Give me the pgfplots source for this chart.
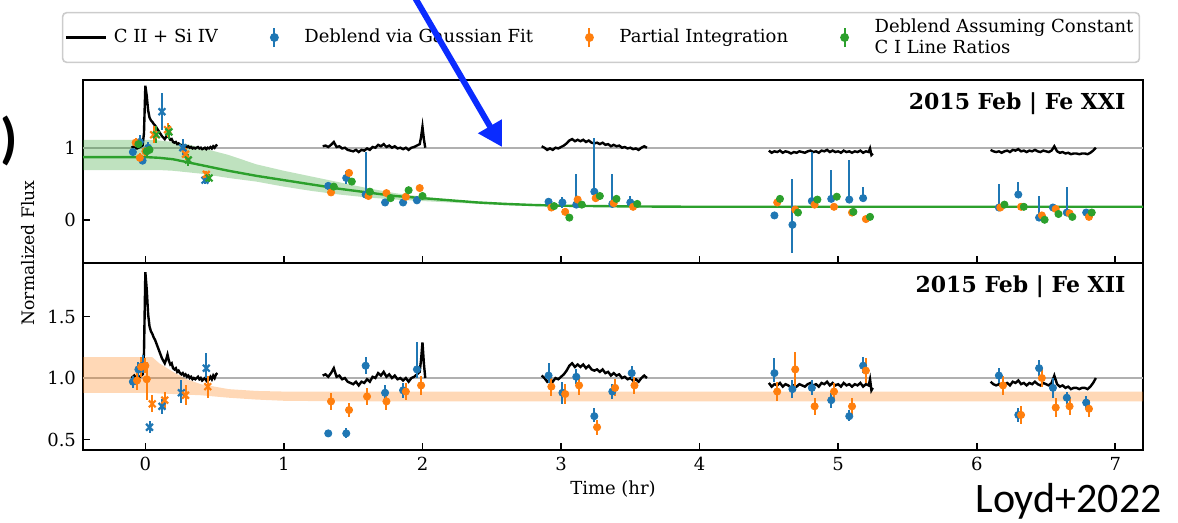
\documentclass[border=0pt]{standalone}
\usepackage{fontspec}
\setmainfont{DejaVu Serif}
\newfontfamily\carlito{Carlito}
\usepackage{pgfplots}
\pgfplotsset{compat=1.18}
\usepackage{pgfplotstable}
\usetikzlibrary{arrows.meta}

\definecolor{tabblue}{HTML}{1F77B4}
\definecolor{taborange}{HTML}{FF7F0E}
\definecolor{tabgreen}{HTML}{2CA02C}
\definecolor{refgray}{HTML}{B0B0B0}
\definecolor{arrowblue}{HTML}{0A2BFF}

% C II + Si IV light curve (same in both panels), nan breaks the gaps
\pgfplotstableread{
t f
-0.10 1.00
-0.08 1.02
-0.06 0.99
-0.04 1.01
-0.02 1.03
-0.01 1.20
0.00 1.86
0.01 1.72
0.02 1.52
0.03 1.42
0.04 1.38
0.05 1.36
0.06 1.33
0.07 1.31
0.08 1.28
0.09 1.25
0.10 1.22
0.11 1.19
0.12 1.16
0.13 1.14
0.14 1.12
0.15 1.15
0.16 1.19
0.17 1.14
0.18 1.11
0.19 1.12
0.20 1.08
0.21 1.07
0.22 1.08
0.23 1.05
0.24 1.06
0.25 1.04
0.26 1.03
0.27 1.04
0.28 1.02
0.29 1.03
0.30 1.01
0.31 1.02
0.32 1.00
0.33 1.01
0.34 0.99
0.35 1.00
0.36 0.99
0.37 1.00
0.38 1.01
0.39 0.99
0.40 1.00
0.41 0.98
0.42 0.99
0.43 1.00
0.44 0.98
0.45 1.00
0.46 0.99
0.47 1.01
0.48 0.99
0.49 1.02
0.50 1.00
0.51 1.03
0.52 1.04
0.90 nan
1.28 1.02
1.30 1.03
1.32 1.01
1.34 1.04
1.36 1.08
1.38 1.01
1.40 1.02
1.42 0.99
1.44 1.00
1.46 0.97
1.48 0.96
1.50 0.95
1.52 0.97
1.54 0.94
1.56 0.97
1.58 0.96
1.60 0.99
1.62 0.97
1.64 1.01
1.66 1.00
1.68 1.04
1.70 1.02
1.72 1.05
1.74 1.01
1.76 1.03
1.78 1.00
1.80 1.02
1.82 0.99
1.84 1.00
1.86 0.98
1.88 1.00
1.90 0.97
1.92 1.00
1.94 1.01
1.96 1.03
1.98 1.05
1.99 1.15
2.00 1.29
2.01 1.12
2.02 1.00
2.50 nan
2.86 1.02
2.88 1.00
2.90 0.97
2.92 0.99
2.94 0.97
2.96 1.00
2.98 0.99
3.00 1.01
3.02 1.03
3.04 1.06
3.06 1.10
3.08 1.12
3.10 1.09
3.12 1.11
3.14 1.09
3.16 1.11
3.18 1.08
3.20 1.10
3.22 1.07
3.24 1.06
3.26 1.07
3.28 1.05
3.30 1.07
3.32 1.04
3.34 1.05
3.36 1.02
3.38 1.04
3.40 1.02
3.42 1.03
3.44 1.00
3.46 1.01
3.48 0.99
3.50 1.00
3.52 0.98
3.54 0.99
3.56 0.97
3.58 1.00
3.60 1.02
3.62 1.00
4.00 nan
4.50 0.96
4.52 0.93
4.54 0.95
4.56 0.94
4.58 0.96
4.60 0.93
4.62 0.95
4.64 0.94
4.66 0.92
4.68 0.94
4.70 0.93
4.72 0.95
4.74 0.94
4.76 0.93
4.78 0.95
4.80 0.96
4.82 0.94
4.84 0.95
4.86 0.93
4.88 0.96
4.90 0.95
4.92 0.97
4.94 0.94
4.96 0.96
4.98 0.94
5.00 0.95
5.02 0.93
5.04 0.96
5.06 0.94
5.08 0.95
5.10 0.93
5.12 0.95
5.14 0.94
5.16 0.96
5.18 0.93
5.20 0.95
5.22 0.94
5.23 0.99
5.24 0.90
5.25 0.92
5.70 nan
6.10 0.97
6.12 0.95
6.14 0.94
6.16 0.95
6.18 0.93
6.20 0.95
6.22 0.96
6.24 0.94
6.26 0.97
6.28 0.96
6.30 0.98
6.32 0.95
6.34 0.96
6.36 0.94
6.38 0.96
6.40 0.95
6.42 0.97
6.44 0.95
6.46 0.94
6.48 0.96
6.50 0.95
6.52 0.94
6.54 0.96
6.56 1.02
6.58 0.95
6.60 0.93
6.62 0.94
6.64 0.92
6.66 0.93
6.68 0.91
6.70 0.92
6.72 0.92
6.74 0.91
6.76 0.92
6.78 0.92
6.80 0.91
6.82 0.93
6.84 0.96
6.86 1.00
}\cflux

% Fe XXI model
\pgfplotstableread{
t m
-0.45 0.87
0.00 0.87
0.10 0.86
0.20 0.84
0.30 0.80
0.40 0.76
0.50 0.72
0.60 0.68
0.80 0.61
1.00 0.55
1.20 0.49
1.40 0.43
1.60 0.38
1.80 0.33
2.00 0.30
2.20 0.27
2.40 0.24
2.60 0.22
2.80 0.205
3.00 0.195
3.50 0.185
4.00 0.18
7.20 0.18
}\fexximodel

% Fe XXI band outline: upper edge, then lower edge back
\pgfplotstableread{
t b
-0.45 1.11
0.00 1.11
0.10 1.10
0.20 1.08
0.30 1.05
0.40 1.00
0.50 0.95
0.60 0.90
0.80 0.77
1.00 0.68
1.20 0.60
1.40 0.52
1.60 0.44
1.80 0.37
2.00 0.32
2.20 0.28
2.40 0.25
2.60 0.23
2.80 0.21
3.00 0.20
3.50 0.19
4.00 0.185
7.20 0.185
7.20 0.175
4.00 0.175
3.50 0.178
3.00 0.185
2.80 0.19
2.60 0.20
2.40 0.22
2.20 0.24
2.00 0.26
1.80 0.28
1.60 0.31
1.40 0.35
1.20 0.40
1.00 0.46
0.80 0.53
0.60 0.58
0.50 0.61
0.40 0.64
0.30 0.66
0.20 0.68
0.10 0.69
0.00 0.69
-0.45 0.69
}\fexxiband

% Fe XII band outline
\pgfplotstableread{
t b
-0.45 1.17
0.00 1.17
0.05 1.17
0.10 1.12
0.20 1.05
0.30 0.99
0.40 0.95
0.50 0.93
0.60 0.91
0.80 0.895
1.00 0.89
1.50 0.89
7.20 0.89
7.20 0.81
1.50 0.81
1.00 0.815
0.80 0.825
0.60 0.84
0.50 0.85
0.40 0.86
0.30 0.865
0.20 0.87
0.10 0.875
0.05 0.88
0.00 0.88
-0.45 0.88
}\fexiiband

% ---- Fe XXI points: t flux err+ err-
\pgfplotstableread{
t f ep em
-0.09 0.94 0.06 0.06
-0.04 1.08 0.10 0.06
-0.02 0.82 0.05 0.05
0.02 1.00 0.08 0.08
1.32 0.47 0.05 0.05
1.45 0.58 0.10 0.08
1.59 0.35 0.59 0.04
1.73 0.24 0.04 0.04
1.86 0.24 0.04 0.04
1.96 0.27 0.06 0.04
2.91 0.25 0.05 0.05
3.01 0.24 0.07 0.07
3.11 0.21 0.42 0.04
3.24 0.39 0.75 0.05
3.37 0.22 0.41 0.04
3.50 0.24 0.09 0.05
4.54 0.06 0.04 0.04
4.67 -0.07 0.63 0.39
4.81 0.26 0.68 0.04
4.95 0.29 0.40 0.04
5.08 0.28 0.55 0.04
5.18 0.30 0.16 0.04
6.16 0.17 0.33 0.04
6.30 0.35 0.17 0.04
6.45 0.03 0.30 0.04
6.55 0.17 0.03 0.03
6.65 0.10 0.35 0.04
6.79 0.10 0.03 0.03
}\xxiblue
\pgfplotstableread{
t f ep em
0.12 1.50 0.26 0.25
0.27 1.00 0.12 0.10
0.43 0.55 0.05 0.05
}\xxibluex
\pgfplotstableread{
t f ep em
-0.07 1.07 0.06 0.06
-0.04 0.86 0.06 0.06
0.00 0.95 0.06 0.06
1.34 0.38 0.03 0.03
1.47 0.65 0.04 0.04
1.61 0.33 0.03 0.03
1.74 0.37 0.03 0.03
1.88 0.32 0.03 0.03
1.98 0.44 0.03 0.03
2.93 0.17 0.03 0.03
3.03 0.11 0.03 0.03
3.12 0.28 0.03 0.03
3.25 0.30 0.03 0.03
3.38 0.23 0.03 0.03
3.52 0.18 0.03 0.03
4.56 0.24 0.03 0.03
4.69 0.14 0.03 0.03
4.83 0.21 0.03 0.03
4.97 0.18 0.03 0.03
5.10 0.10 0.03 0.03
5.20 0.01 0.03 0.03
6.17 0.17 0.03 0.03
6.32 0.18 0.03 0.03
6.47 0.06 0.03 0.03
6.57 0.15 0.03 0.03
6.67 0.09 0.03 0.03
6.81 0.04 0.03 0.03
}\xxiorange
\pgfplotstableread{
t f ep em
0.06 1.18 0.12 0.12
0.16 1.25 0.10 0.10
0.29 0.91 0.08 0.08
0.44 0.63 0.05 0.05
}\xxiorangex
\pgfplotstableread{
t f ep em
-0.05 1.05 0.06 0.06
0.01 0.95 0.06 0.06
0.03 0.97 0.05 0.05
1.36 0.46 0.03 0.03
1.49 0.53 0.04 0.04
1.62 0.39 0.03 0.03
1.77 0.30 0.03 0.03
1.90 0.41 0.03 0.03
2.00 0.33 0.03 0.03
2.95 0.19 0.03 0.03
3.06 0.03 0.03 0.03
3.15 0.21 0.03 0.03
3.28 0.33 0.03 0.03
3.40 0.29 0.03 0.03
3.55 0.22 0.03 0.03
4.58 0.29 0.03 0.03
4.71 0.10 0.03 0.03
4.85 0.28 0.03 0.03
4.99 0.32 0.03 0.03
5.11 0.11 0.03 0.03
5.23 0.04 0.03 0.03
6.20 0.21 0.03 0.03
6.34 0.18 0.03 0.03
6.49 0.00 0.03 0.03
6.59 0.08 0.03 0.03
6.69 0.04 0.03 0.03
6.83 0.10 0.03 0.03
}\xxigreen
\pgfplotstableread{
t f ep em
0.08 1.18 0.12 0.12
0.17 1.22 0.10 0.10
0.31 0.83 0.08 0.08
0.46 0.58 0.05 0.05
}\xxigreenx

% ---- Fe XII points
\pgfplotstableread{
t f ep em
-0.09 0.97 0.05 0.05
-0.05 1.07 0.06 0.06
-0.02 1.10 0.09 0.06
1.32 0.55 0.03 0.03
1.45 0.55 0.04 0.04
1.59 1.10 0.07 0.07
1.73 0.88 0.06 0.06
1.86 0.90 0.06 0.06
1.96 1.07 0.22 0.07
2.91 1.02 0.10 0.06
3.01 0.88 0.09 0.09
3.11 1.01 0.06 0.06
3.24 0.69 0.07 0.05
3.37 0.89 0.06 0.06
3.51 1.04 0.06 0.05
4.54 1.04 0.12 0.07
4.67 0.91 0.07 0.07
4.81 0.92 0.06 0.06
4.95 0.82 0.06 0.06
5.08 0.69 0.05 0.04
5.18 1.10 0.07 0.06
6.16 1.02 0.06 0.06
6.30 0.70 0.06 0.06
6.45 1.08 0.07 0.06
6.55 0.92 0.08 0.08
6.65 0.84 0.05 0.05
6.79 0.80 0.05 0.05
}\xiiblue
\pgfplotstableread{
t f ep em
0.03 0.60 0.05 0.05
0.12 0.77 0.06 0.06
0.26 0.88 0.10 0.08
0.44 1.08 0.12 0.08
}\xiibluex
\pgfplotstableread{
t f ep em
-0.06 0.98 0.06 0.08
-0.03 1.09 0.08 0.08
0.00 1.10 0.06 0.06
0.01 0.99 0.14 0.17
1.34 0.81 0.07 0.07
1.47 0.74 0.06 0.06
1.60 0.85 0.07 0.07
1.74 0.81 0.07 0.07
1.88 0.89 0.07 0.07
1.99 0.94 0.08 0.08
2.93 0.93 0.08 0.08
3.03 0.87 0.08 0.08
3.13 0.94 0.08 0.08
3.26 0.60 0.06 0.06
3.39 0.92 0.07 0.07
3.53 0.94 0.07 0.07
4.56 0.89 0.08 0.08
4.69 1.07 0.14 0.14
4.83 0.77 0.07 0.07
4.97 0.89 0.07 0.07
5.10 0.77 0.07 0.07
5.20 1.06 0.10 0.10
6.19 0.94 0.08 0.08
6.32 0.70 0.07 0.07
6.47 1.00 0.07 0.07
6.57 0.76 0.08 0.08
6.67 0.77 0.07 0.07
6.81 0.75 0.07 0.07
}\xiiorange
\pgfplotstableread{
t f ep em
0.05 0.79 0.07 0.07
0.14 0.82 0.07 0.07
0.29 0.86 0.08 0.08
0.45 0.93 0.09 0.09
}\xiiorangex

\pgfplotsset{
  errbase/.style={color=#1, only marks,
    error bars/y dir=both, error bars/y explicit,
    error bars/error mark=none,
    error bars/error bar style={line width=1pt, #1, solid}},
  errpt/.style={errbase=#1, mark=*, mark size=1.8pt, mark options={solid, fill=#1, draw=#1},
    legend image code/.code={\path[draw=none, fill=none] (0.3cm,0cm) -- (0.3cm+13pt,0cm);
      \draw[#1, line width=1pt] (0.3cm,-0.17cm) -- (0.3cm,0.17cm);
      \fill[#1] (0.3cm,0cm) circle (1.8pt);}},
  errx/.style={errbase=#1, mark=x, mark size=2.4pt, mark options={solid, line width=1.1pt, draw=#1}},
  panel/.style={scale only axis, width=530pt, xmin=-0.45, xmax=7.2,
    axis line style={line width=0.8pt}, tick style={line width=0.8pt, black},
    major tick length=3.5pt, tick align=inside, xtick pos=bottom, ytick pos=left,
    xtick={0,1,...,7}, unbounded coords=jump,
    tick label style={font=\fontsize{9}{10}\selectfont},
    /pgf/number format/assume math mode=true},
  flux/.style={black, line width=1.2pt, no marks,
    legend image code/.code={\draw[black, line width=1.2pt] (0cm,0cm) -- (20pt,0cm);
      \path[draw=none] (20pt,0cm) -- (22pt,0cm);}},
}

\begin{document}
\begin{tikzpicture}

% ---------------- top panel: Fe XXI
\begin{axis}[panel, at={(41.5pt,-40pt)}, anchor=north west, height=91.5pt,
  ymin=-0.6, ymax=1.94, ytick={0,1}, xticklabels={},
  legend style={at={(0.4887,1.2322)}, anchor=center, legend columns=4,
    draw=black!20, rounded corners=2pt, line width=0.8pt,
    font=\fontsize{9}{10.5}\selectfont, cells={anchor=west, align=left},
    /tikz/every even column/.append style={column sep=24pt}, inner sep=1pt},
]
\addplot[refgray, line width=1pt, forget plot] coordinates {(-0.45,1) (7.2,1)};
\addplot[fill=tabgreen, fill opacity=0.3, draw=none, forget plot] table[x=t, y=b] {\fexxiband};
\addplot[tabgreen, line width=1.2pt, forget plot] table[x=t, y=m] {\fexximodel};

\addplot[flux] table[x=t, y=f] {\cflux};
\addlegendentry{C II + Si IV}
\addplot[errpt=tabblue] table[x=t, y=f, y error plus=ep, y error minus=em] {\xxiblue};
\addlegendentry{Deblend via Gaussian Fit}
\addplot[errx=tabblue, forget plot] table[x=t, y=f, y error plus=ep, y error minus=em] {\xxibluex};
\addplot[errpt=taborange] table[x=t, y=f, y error plus=ep, y error minus=em] {\xxiorange};
\addlegendentry{Partial Integration}
\addplot[errx=taborange, forget plot] table[x=t, y=f, y error plus=ep, y error minus=em] {\xxiorangex};
\addplot[errpt=tabgreen] table[x=t, y=f, y error plus=ep, y error minus=em] {\xxigreen};
\addlegendentry{Deblend Assuming Constant\\C I Line Ratios}
\addplot[errx=tabgreen, forget plot] table[x=t, y=f, y error plus=ep, y error minus=em] {\xxigreenx};

\node[anchor=north east, font=\bfseries\fontsize{11}{12}\selectfont] at (rel axis cs:0.99,0.97) {2015 Feb | Fe XXI};
\end{axis}

% ---------------- bottom panel: Fe XII
\begin{axis}[panel, at={(41.5pt,-131.5pt)}, anchor=north west, height=93.5pt,
  ymin=0.415, ymax=1.935, ytick={0.5,1.0,1.5},
  yticklabel style={/pgf/number format/.cd, fixed, fixed zerofill, precision=1},
  xlabel={Time (hr)}, xlabel style={font=\fontsize{9}{10}\selectfont, yshift=2pt},
]
\addplot[refgray, line width=1pt] coordinates {(-0.45,1) (7.2,1)};
\addplot[fill=taborange, fill opacity=0.3, draw=none] table[x=t, y=b] {\fexiiband};

\addplot[flux] table[x=t, y=f] {\cflux};
\addplot[errpt=tabblue] table[x=t, y=f, y error plus=ep, y error minus=em] {\xiiblue};
\addplot[errx=tabblue] table[x=t, y=f, y error plus=ep, y error minus=em] {\xiibluex};
\addplot[errpt=taborange] table[x=t, y=f, y error plus=ep, y error minus=em] {\xiiorange};
\addplot[errx=taborange] table[x=t, y=f, y error plus=ep, y error minus=em] {\xiiorangex};

\node[anchor=north east, font=\bfseries\fontsize{11}{12}\selectfont] at (rel axis cs:0.99,0.968) {2015 Feb | Fe XII};
\end{axis}

\node[rotate=90, font=\fontsize{8.6}{9}\selectfont] at (14pt,-126.5pt) {Normalized Flux};

% annotations on the slide
\draw[overlay, arrowblue, line width=3pt, -{Triangle[length=12pt, width=13pt]}] (207pt,2pt) -- (251pt,-73.5pt);
\node[font=\carlito\bfseries\fontsize{28}{30}\selectfont, anchor=west, inner sep=0pt] at (0pt,-70.5pt) {)};
\node[font=\carlito\fontsize{21}{24}\selectfont, anchor=base east, inner sep=0pt] at (581pt,-256pt) {Loyd+2022};
\path (0,0) rectangle (589pt,-261.5pt);
\end{tikzpicture}
\end{document}
